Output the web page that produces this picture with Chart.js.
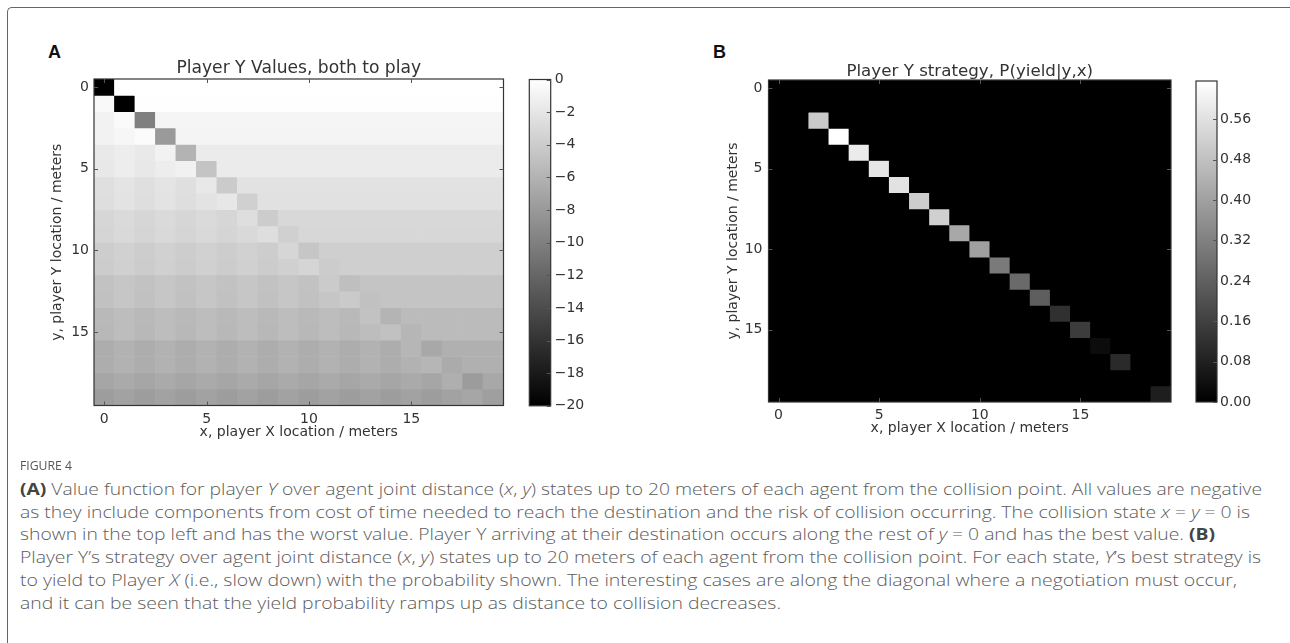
<!DOCTYPE html>
<html>
<head>
<meta charset="utf-8">
<script src="https://cdn.jsdelivr.net/npm/chart.js@4.4.1/dist/chart.umd.min.js"></script>
<style>
  html, body { margin:0; padding:0; background:#fff; }
  body { width:1290px; height:643px; overflow:hidden; position:relative; }
  #frame { position:absolute; left:7px; top:7px; width:1300px; height:700px; border-left:1.5px solid #666; border-top:1.5px solid #666; border-top-left-radius:5px; }
  .panel { position:absolute; font-family:"Liberation Sans", Arial, sans-serif; font-weight:700; font-size:18px; color:#111; line-height:20px; }
  canvas { position:absolute; }
  .figlabel { position:absolute; left:20px; top:456px; font-family:"Open Sans", sans-serif; font-size:13px; color:#555; line-height:18px; transform-origin:0 50%; }
  .cap { position:absolute; left:20px; font-family:"Open Sans", sans-serif; font-weight:300; font-size:16px; color:#5c5c5c; white-space:nowrap; line-height:20px; transform-origin:0 50%; }
  .cap b { font-weight:700; color:#444; }
</style>
</head>
<body>
<div id="frame"></div>
<div class="panel" style="left:48px;top:42px">A</div>
<div class="panel" style="left:713px;top:42px">B</div>
<canvas id="heatA" width="520" height="420" style="left:0;top:40px"></canvas>
<canvas id="barA" width="80" height="420" style="left:520px;top:40px"></canvas>
<canvas id="heatB" width="540" height="420" style="left:640px;top:40px"></canvas>
<canvas id="barB" width="110" height="420" style="left:1180px;top:40px"></canvas>

<div class="figlabel" id="figlabel" data-end="72">FIGURE 4</div>
<div class="cap" data-end="1262" style="top:479px"><b>(A)</b> Value function for player <i>Y</i> over agent joint distance (<i>x</i>, <i>y</i>) states up to 20 meters of each agent from the collision point. All values are negative</div>
<div class="cap" data-end="1250" style="top:501.5px">as they include components from cost of time needed to reach the destination and the risk of collision occurring. The collision state <i>x</i> = <i>y</i> = 0 is</div>
<div class="cap" data-end="1215" style="top:524px">shown in the top left and has the worst value. Player Y arriving at their destination occurs along the rest of <i>y</i> = 0 and has the best value. <b>(B)</b></div>
<div class="cap" data-end="1261" style="top:547px">Player Y’s strategy over agent joint distance (<i>x</i>, <i>y</i>) states up to 20 meters of each agent from the collision point. For each state, <i>Y</i>’s best strategy is</div>
<div class="cap" data-end="1237" style="top:570px">to yield to Player <i>X</i> (i.e., slow down) with the probability shown. The interesting cases are along the diagonal where a negotiation must occur,</div>
<div class="cap" data-end="781" style="top:593px">and it can be seen that the yield probability ramps up as distance to collision decreases.</div>

<script>
// ---------------- DATA ----------------
const xCells = [0,1,2,3,4,5,6,7,8,9,10,11,12,13,14,15,16,17,18,19];
const yCells = [0,1,2,3,4,5,6,7,8,9,10,11,12,13,14,15,16,17,18,19];
const xTickValues = [0,5,10,15];
const yTickValues = [0,5,10,15];

// Panel A: value of player Y, rows = y, columns = x
const valueRows = [
  [-20,0,0,0,0,0,0,0,0,0,0,0,0,0,0,0,0,0,0,0],
  [-0.5,-20,-0.1,-0.1,-0.1,-0.1,-0.1,-0.1,-0.1,-0.1,-0.1,-0.1,-0.1,-0.1,-0.1,-0.1,-0.1,-0.1,-0.1,-0.1],
  [-1.0,-0.4,-10,-0.8,-0.8,-0.8,-0.8,-0.8,-0.8,-0.8,-0.8,-0.8,-0.8,-0.8,-0.8,-0.8,-0.8,-0.8,-0.8,-0.8],
  [-1.05,-0.7,-0.35,-7.9,-0.85,-0.85,-0.85,-0.85,-0.85,-0.85,-0.85,-0.85,-0.85,-0.85,-0.85,-0.85,-0.85,-0.85,-0.85,-0.85],
  [-1.75,-1.4,-1.75,-1.05,-6.0,-1.55,-1.55,-1.55,-1.55,-1.55,-1.55,-1.55,-1.55,-1.55,-1.55,-1.55,-1.55,-1.55,-1.55,-1.55],
  [-1.8,-1.45,-1.8,-1.45,-1.1,-4.6,-1.6,-1.6,-1.6,-1.6,-1.6,-1.6,-1.6,-1.6,-1.6,-1.6,-1.6,-1.6,-1.6,-1.6],
  [-2.5,-2.15,-2.5,-2.15,-2.5,-1.8,-4.1,-2.3,-2.3,-2.3,-2.3,-2.3,-2.3,-2.3,-2.3,-2.3,-2.3,-2.3,-2.3,-2.3],
  [-2.55,-2.2,-2.55,-2.2,-2.55,-2.2,-1.85,-3.7,-2.35,-2.35,-2.35,-2.35,-2.35,-2.35,-2.35,-2.35,-2.35,-2.35,-2.35,-2.35],
  [-3.25,-2.9,-3.25,-2.9,-3.25,-2.9,-3.25,-2.55,-4.0,-3.05,-3.05,-3.05,-3.05,-3.05,-3.05,-3.05,-3.05,-3.05,-3.05,-3.05],
  [-3.3,-2.95,-3.3,-2.95,-3.3,-2.95,-3.3,-2.95,-2.6,-3.7,-3.1,-3.1,-3.1,-3.1,-3.1,-3.1,-3.1,-3.1,-3.1,-3.1],
  [-3.95,-3.6,-3.95,-3.6,-3.95,-3.6,-3.95,-3.6,-3.95,-3.25,-4.45,-3.75,-3.75,-3.75,-3.75,-3.75,-3.75,-3.75,-3.75,-3.75],
  [-4.0,-3.65,-4.0,-3.65,-4.0,-3.65,-4.0,-3.65,-4.0,-3.65,-3.3,-4.0,-3.8,-3.8,-3.8,-3.8,-3.8,-3.8,-3.8,-3.8],
  [-4.8,-4.45,-4.8,-4.45,-4.8,-4.45,-4.8,-4.45,-4.8,-4.45,-4.8,-4.1,-5.0,-4.6,-4.6,-4.6,-4.6,-4.6,-4.6,-4.6],
  [-4.85,-4.5,-4.85,-4.5,-4.85,-4.5,-4.85,-4.5,-4.85,-4.5,-4.85,-4.5,-4.15,-4.9,-4.65,-4.65,-4.65,-4.65,-4.65,-4.65],
  [-5.5,-5.15,-5.5,-5.15,-5.5,-5.15,-5.5,-5.15,-5.5,-5.15,-5.5,-5.15,-5.5,-4.8,-5.9,-5.3,-5.3,-5.3,-5.3,-5.3],
  [-5.55,-5.2,-5.55,-5.2,-5.55,-5.2,-5.55,-5.2,-5.55,-5.2,-5.55,-5.2,-5.55,-5.2,-4.85,-5.7,-5.35,-5.35,-5.35,-5.35],
  [-6.4,-6.05,-6.4,-6.05,-6.4,-6.05,-6.4,-6.05,-6.4,-6.05,-6.4,-6.05,-6.4,-6.05,-6.4,-5.7,-6.8,-6.2,-6.2,-6.2],
  [-6.4,-6.05,-6.4,-6.05,-6.4,-6.05,-6.4,-6.05,-6.4,-6.05,-6.4,-6.05,-6.4,-6.05,-6.4,-6.05,-5.7,-6.6,-6.2,-6.2],
  [-7.0,-6.65,-7.0,-6.65,-7.0,-6.65,-7.0,-6.65,-7.0,-6.65,-7.0,-6.65,-7.0,-6.65,-7.0,-6.65,-7.0,-6.3,-7.8,-6.8],
  [-7.65,-7.3,-7.65,-7.3,-7.65,-7.3,-7.65,-7.3,-7.65,-7.3,-7.65,-7.3,-7.65,-7.3,-7.65,-7.3,-7.65,-7.3,-6.95,-7.5]
];
const valueRange = [-20, 0];
const valueBarTicks = [0,-2,-4,-6,-8,-10,-12,-14,-16,-18,-20];

// Panel B: P(yield | y, x) — non-zero only on the diagonal x = y
const yieldDiagonal = [0,0,0.504,0.636,0.586,0.574,0.564,0.511,0.519,0.419,0.399,0.304,0.264,0.234,0.120,0.150,0.030,0.105,0,0.075];
const yieldBarTicks = [0,0.08,0.16,0.24,0.32,0.40,0.48,0.56];

// ---------------- HELPERS ----------------
const TXT = '#333';
const FONT = 'DejaVu Sans';

function grey(v, lo, hi) {
  const t = Math.max(0, Math.min(1, (v - lo) / (hi - lo)));
  const g = Math.round(255 * t);
  return 'rgb(' + g + ',' + g + ',' + g + ')';
}

function heatDatasets(matrix, lo, hi) {
  return yCells.map((y, r) => ({
    label: 'y=' + y,
    data: xCells.map(x => ({ x: x, y: [y - 0.5, y + 0.5] })),
    backgroundColor: xCells.map((x, c) => grey(matrix[r][c], lo, hi)),
    borderWidth: 0,
    grouped: false,
    barPercentage: 1,
    categoryPercentage: 1
  }));
}

const mplFrame = {
  id: 'mplFrame',
  beforeDatasetsDraw(chart, args, o) {
    if (!o.bg) return;
    const { ctx, chartArea: a } = chart;
    ctx.save(); ctx.fillStyle = o.bg; ctx.fillRect(a.left, a.top, a.right - a.left, a.bottom - a.top); ctx.restore();
  },
  afterDatasetsDraw(chart, args, o) {
    const { ctx, chartArea: a, scales } = chart;
    ctx.save();
    ctx.strokeStyle = o.color || '#333';
    ctx.lineWidth = 1.2;
    ctx.strokeRect(a.left, a.top, a.right - a.left, a.bottom - a.top);
    const len = o.tickLen || 4;
    ctx.lineWidth = 1;
    ctx.strokeStyle = o.tickColor || '#555';
    ctx.beginPath();
    (o.xTicks || []).forEach(v => {
      const px = Math.round(scales.x.getPixelForValue(v)) + 0.5;
      ctx.moveTo(px, a.bottom); ctx.lineTo(px, a.bottom - len);
      ctx.moveTo(px, a.top); ctx.lineTo(px, a.top + len);
    });
    (o.yTicks || []).forEach(v => {
      const py = Math.round(scales.y.getPixelForValue(v)) + 0.5;
      if (!o.rightOnly) { ctx.moveTo(a.left, py); ctx.lineTo(a.left + len, py); }
      ctx.moveTo(a.right, py); ctx.lineTo(a.right - len, py);
    });
    ctx.stroke();
    if (o.title) {
      let size = 17;
      ctx.font = size + 'px "' + FONT + '"';
      if (o.titleWidth) {
        size = size * o.titleWidth / ctx.measureText(o.title).width;
        ctx.font = size + 'px "' + FONT + '"';
      }
      ctx.fillStyle = TXT;
      ctx.textAlign = 'center';
      ctx.textBaseline = 'middle';
      ctx.fillText(o.title, (a.left + a.right) / 2 + (o.titleDx || 0), a.top - (o.titleGap || 10));
    }
    ctx.restore();
  }
};

function heatOptions(cfg) {
  return {
    responsive: false, animation: false, devicePixelRatio: 1,
    layout: { padding: { left: 0, top: cfg.top, right: cfg.right, bottom: 0 } },
    plugins: {
      legend: { display: false }, tooltip: { enabled: false },
      mplFrame: { xTicks: xTickValues, yTicks: yTickValues, title: cfg.title, titleWidth: cfg.titleWidth, titleGap: cfg.titleGap, bg: cfg.bg }
    },
    scales: {
      x: {
        type: 'linear', min: -0.5, max: 19.5, offset: false,
        afterBuildTicks: s => { s.ticks = xTickValues.map(v => ({ value: v })); },
        afterFit: s => { s.height = cfg.xHeight; },
        grid: { display: false, drawTicks: false }, border: { display: false },
        ticks: { padding: cfg.xPad, color: TXT, font: { family: FONT, size: 14 }, autoSkip: false, maxRotation: 0, callback: v => String(v) },
        title: { display: true, text: 'x, player X location / meters', color: TXT, font: { family: FONT, size: 14 }, padding: { top: 0, bottom: cfg.xTitlePad } }
      },
      y: {
        type: 'linear', min: -0.5, max: 19.5, reverse: true,
        afterBuildTicks: s => { s.ticks = yTickValues.map(v => ({ value: v })); },
        afterFit: s => { s.width = cfg.yWidth; },
        grid: { display: false, drawTicks: false }, border: { display: false },
        ticks: { padding: cfg.yPad, color: TXT, font: { family: FONT, size: 14 }, autoSkip: false, callback: v => String(v) },
        title: { display: true, text: 'y, player Y location / meters', color: TXT, font: { family: FONT, size: 14 }, padding: { top: cfg.yTitlePad, bottom: 0 } }
      }
    }
  };
}

function colorbar(id, lo, hi, ticks, fmt, cfg) {
  new Chart(document.getElementById(id), {
    type: 'bar',
    data: {
      labels: [''],
      datasets: [{
        data: [[lo, hi]],
        borderWidth: 0, barPercentage: 1, categoryPercentage: 1,
        backgroundColor: (c) => {
          const a = c.chart.chartArea;
          if (!a) return '#888';
          const g = c.chart.ctx.createLinearGradient(0, a.bottom, 0, a.top);
          g.addColorStop(0, '#000'); g.addColorStop(1, '#fff');
          return g;
        }
      }]
    },
    options: {
      responsive: false, animation: false, devicePixelRatio: 1,
      layout: { padding: { left: cfg.left, top: cfg.top, right: 0, bottom: cfg.bottom } },
      plugins: { legend: { display: false }, tooltip: { enabled: false },
        mplFrame: { yTicks: ticks, rightOnly: true, tickLen: 4 } },
      scales: {
        x: { display: false },
        y: {
          type: 'linear', position: 'right', min: lo, max: hi,
          afterBuildTicks: s => { s.ticks = ticks.map(v => ({ value: v })); },
          afterFit: s => { s.width = cfg.width; },
          grid: { display: false, drawTicks: false }, border: { display: false },
          ticks: { padding: cfg.pad, color: TXT, font: { family: FONT, size: 14 }, autoSkip: false, callback: fmt }
        }
      }
    },
    plugins: [mplFrame]
  });
}

// ---------------- CHARTS ----------------
const yieldMatrix = yCells.map((y, r) => xCells.map((x, c) => (r === c ? yieldDiagonal[r] : 0)));
const yieldMax = Math.max(...yieldDiagonal);

new Chart(document.getElementById('heatA'), {
  type: 'bar',
  data: { datasets: heatDatasets(valueRows, valueRange[0], valueRange[1]) },
  options: heatOptions({ top: 39, right: 16.5, xHeight: 54.5, xPad: 5, xTitlePad: 19.6, yWidth: 94, yPad: 5, yTitlePad: 48.6,
    title: 'Player Y Values, both to play', titleWidth: 245, titleGap: 10 }),
  plugins: [mplFrame]
});

new Chart(document.getElementById('heatB'), {
  type: 'bar',
  data: { datasets: heatDatasets(yieldMatrix, 0, yieldMax) },
  options: heatOptions({ top: 40, right: 9, xHeight: 58, xPad: 5, xTitlePad: 23.6, yWidth: 128.5, yPad: 6, yTitlePad: 84.6,
    title: 'Player Y strategy, P(yield|y,x)', titleWidth: 247, titleGap: 8, bg: '#000' }),
  plugins: [mplFrame]
});

colorbar('barA', valueRange[0], valueRange[1], valueBarTicks,
  v => (v < 0 ? '\u2212' + Math.abs(v) : String(v)),
  { left: 9.3, top: 39.5, bottom: 54.2, width: 49.3, pad: 4 });

colorbar('barB', 0, yieldMax, yieldBarTicks,
  v => v.toFixed(2),
  { left: 16, top: 41, bottom: 58, width: 73, pad: 3 });

// ---------------- CAPTION FIT ----------------
document.querySelectorAll('.cap, #figlabel').forEach(el => {
  const target = +el.dataset.end - 20;
  const w = el.getBoundingClientRect().width;
  el.style.transform = 'scaleX(' + (target / w) + ')';
});
</script>
</body>
</html>
